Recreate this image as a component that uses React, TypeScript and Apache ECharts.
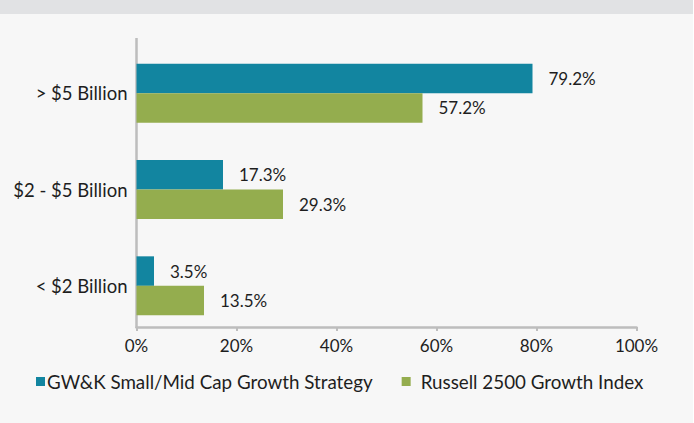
import React, { useEffect, useRef } from "react";
import * as echarts from "echarts";

const categories = ["> $5 Billion", "$2 - $5 Billion", "< $2 Billion"];
const strategyValues = [79.2, 17.3, 3.5];
const indexValues = [57.2, 29.3, 13.5];
const seriesNames = ["GW&K Small/Mid Cap Growth Strategy", "Russell 2500 Growth Index"];
const xTicks = [0, 20, 40, 60, 80, 100];

const FONT = "Lato";
const TEXT = "#1e1e1e";

export default function App() {
  const ref = useRef<HTMLDivElement>(null);
  useEffect(() => {
    if (!ref.current) return;
    const chart = echarts.init(ref.current, null, { renderer: "svg" });
    const labelCfg = {
      show: true,
      position: "right" as const,
      distance: 16,
      formatter: (p: any) => `${p.value.toFixed(1)}%`,
      color: TEXT,
      fontFamily: FONT,
      fontSize: 17,
    };
    chart.setOption({
      animation: false,
      backgroundColor: "#f7f7f7",
      textStyle: { fontFamily: FONT },
      graphic: [
        { type: "rect", left: 0, top: 0, shape: { width: 694, height: 14 }, style: { fill: "#e1e2e4" }, silent: true },
        { type: "rect", left: 693, top: 0, shape: { width: 1, height: 423 }, style: { fill: "#ffffff" }, silent: true },
        { type: "line", shape: { x1: 136.5, y1: 38, x2: 136.5, y2: 328 }, style: { stroke: "#bdbdbd", lineWidth: 2.5 }, silent: true },
      ],
      grid: { left: 136.5, right: 57.5, top: 45, height: 289 },
      legend: {
        data: [
          { name: seriesNames[0], textStyle: { padding: [0, 0, 0, -3] } },
          { name: seriesNames[1], textStyle: { padding: [0, 0, 0, 5] } },
        ],
        left: 31,
        top: 367,
        icon: "rect",
        itemWidth: 9,
        itemHeight: 9,
        itemGap: 29,
        textStyle: { color: TEXT, fontFamily: FONT, fontSize: 18.8 },
      },
      xAxis: {
        type: "value",
        min: 0,
        max: 100,
        interval: 20,
        offset: -7,
        axisLine: { show: true, lineStyle: { color: "#bdbdbd", width: 2.5 } },
        axisTick: { show: true, length: 4, lineStyle: { color: "#bdbdbd", width: 2 } },
        splitLine: { show: false },
        axisLabel: {
          color: TEXT,
          fontFamily: FONT,
          fontSize: 17,
          margin: 10,
          formatter: (v: number) => (xTicks.includes(v) ? `${v}%` : ""),
        },
      },
      yAxis: {
        type: "category",
        data: categories,
        inverse: true,
        axisLine: { show: false },
        axisTick: { show: false },
        axisLabel: { color: TEXT, fontFamily: FONT, fontSize: 18.5, margin: 9 },
      },
      series: [
        {
          name: seriesNames[0],
          type: "bar",
          data: strategyValues,
          barWidth: 29.5,
          barGap: "0%",
          itemStyle: { color: "#1285a0" },
          label: labelCfg,
        },
        {
          name: seriesNames[1],
          type: "bar",
          data: indexValues,
          barWidth: 29.5,
          barGap: "0%",
          itemStyle: { color: "#94ad4e" },
          label: labelCfg,
        },
      ],
    });
    return () => chart.dispose();
  }, []);
  return <div ref={ref} style={{ position: "fixed", left: 0, top: 0, width: 694, height: 423 }} />;
}
